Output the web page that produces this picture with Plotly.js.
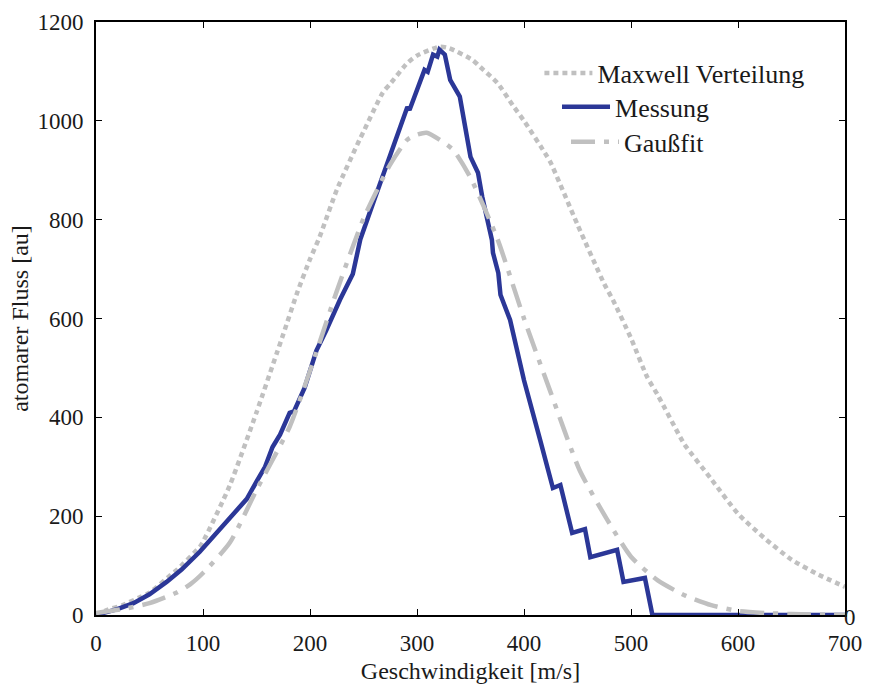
<!DOCTYPE html>
<html>
<head>
<meta charset="utf-8">
<script src="https://cdn.plot.ly/plotly-3.0.1.min.js"></script>
<style>html,body{margin:0;padding:0;background:#fff;}#chart{width:875px;height:692px;}</style>
</head>
<body>
<div id="chart"></div>
<script>
// Maxwell-Verteilung
const maxwellX = [0, 10, 25, 41, 50, 72, 75, 97, 100, 125, 150, 169, 175, 188, 200, 209, 225, 247, 250, 268, 275, 291, 300, 321, 330, 352, 359, 375, 390, 400, 421, 425, 450, 475, 483, 500, 515, 525, 546, 550, 575, 600, 625, 650, 675, 700];
const maxwellY = [0, 10, 20, 36, 45, 85, 90, 138, 148, 262, 410, 530, 568, 652, 720, 765, 860, 965, 978, 1057, 1075, 1117, 1132, 1150, 1147, 1123, 1109, 1077, 1030, 1000, 930, 915, 790, 670, 638, 560, 482, 445, 360, 345, 275, 205, 155, 112, 82, 57];

// Messung
const messX = [0, 10, 20, 35, 50, 66, 80, 97, 110, 120, 132, 141, 150, 158, 165, 172, 181, 185, 195, 206, 215, 228, 240, 245, 247, 260, 275, 291, 293, 300, 307, 310, 315, 319, 321, 323, 326, 331, 340, 345, 350, 357, 361, 370, 371, 376, 378, 387, 400, 415, 427, 434, 445, 457, 462, 487, 493, 513, 520, 600, 700];
const messY = [0, 5, 12, 24, 42, 67, 92, 128, 160, 185, 213, 235, 270, 300, 340, 365, 409, 412, 460, 535, 575, 638, 690, 735, 760, 840, 930, 1028, 1022, 1060, 1103, 1099, 1134, 1130, 1144, 1140, 1134, 1083, 1049, 988, 927, 895, 846, 759, 733, 692, 648, 597, 475, 355, 257, 263, 166, 174, 117, 132, 67, 75, 0, 0, 0];

// Gaussfit
const gaussX = [0, 25, 50, 75, 88, 100, 125, 150, 181, 200, 225, 250, 275, 291, 300, 309, 321, 334, 350, 375, 400, 425, 452, 478, 500, 525, 550, 575, 600, 625, 650, 700];
const gaussY = [4, 12, 24, 45, 62, 85, 146, 253, 381, 494, 655, 802, 912, 962, 972, 976, 962, 941, 885, 762, 600, 450, 293, 192, 118, 70, 40, 20, 8, 4, 2, 0];

const names = ["Maxwell Verteilung", "Messung", "Gaußfit"];

const gray = "#c0c0c0";
const blue = "#2b3797";
const txt = "#1a1a1a";
const fnt = "Liberation Serif, Times New Roman, serif";

const traces = [
  {x: maxwellX, y: maxwellY, mode: "lines", name: names[0], line: {color: gray, width: 4.5, dash: "5px,4px", shape: "spline", smoothing: 0.6}, legend: "legend"},
  {x: messX, y: messY, mode: "lines", name: names[1], line: {color: blue, width: 4.5}, legend: "legend2"},
  {x: gaussX, y: gaussY, mode: "lines", name: names[2], line: {color: gray, width: 4.5, dash: "24px,9px,5px,9px", shape: "spline", smoothing: 0.6}, legend: "legend3"}
];

const legBase = {bgcolor: "rgba(0,0,0,0)", borderwidth: 0, font: {family: fnt, size: 26, color: txt}, itemwidth: 48, xanchor: "left", yanchor: "middle", xref: "paper", yref: "paper"};

const axBase = {
  showline: true, linecolor: "#000", linewidth: 2, mirror: "ticks",
  ticks: "inside", ticklen: 6, tickwidth: 1, tickcolor: "#000",
  showgrid: false, zeroline: false,
  tickfont: {family: fnt, size: 23, color: txt}
};

const layout = {
  width: 875, height: 692,
  margin: {l: 96, r: 30, t: 22, b: 77},
  paper_bgcolor: "#fff", plot_bgcolor: "#fff",
  showlegend: true,
  xaxis: Object.assign({}, axBase, {range: [0, 700], tickvals: [0, 100, 200, 300, 400, 500, 600, 700], ticklabelstandoff: 6,
    title: {text: "Geschwindigkeit [m/s]", font: {family: fnt, size: 24, color: txt}, standoff: 8}}),
  yaxis: Object.assign({}, axBase, {range: [0, 1200], tickvals: [0, 200, 400, 600, 800, 1000, 1200], ticklabelstandoff: 6,
    title: {text: "atomarer Fluss [au]", font: {family: fnt, size: 24, color: txt}, standoff: 2}}),
  legend: Object.assign({}, legBase, {x: 0.592, y: 0.914}),
  legend2: Object.assign({}, legBase, {x: 0.6155, y: 0.857}),
  legend3: Object.assign({}, legBase, {x: 0.6275, y: 0.798}),
  annotations: [
    {x: 700, y: 0, xref: "x", yref: "y", text: "0", showarrow: false, xanchor: "center", yanchor: "middle", xshift: 5, yshift: -2, font: {family: fnt, size: 23, color: txt}}
  ]
};

Plotly.newPlot("chart", traces, layout, {displayModeBar: false, staticPlot: true});
</script>
</body>
</html>
